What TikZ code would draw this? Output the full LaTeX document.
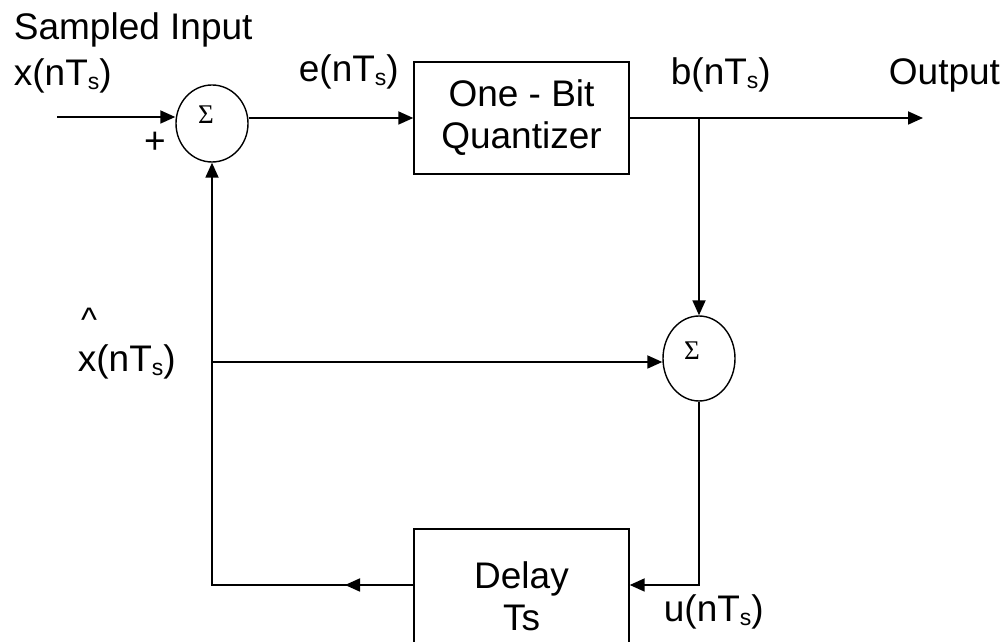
\documentclass[tikz,border=0pt]{standalone}
\usepackage{fontspec}
\setmainfont{Liberation Sans}
\newfontfamily\sigfont{Liberation Serif}
\usetikzlibrary{arrows.meta,shapes.geometric,calc}
\newcommand{\myTs}{T\raisebox{-4pt}{\fontsize{23}{23}\selectfont s}}
\begin{document}
\begin{tikzpicture}[x=1pt,y=1pt,
 line width=1.8pt,
 arr/.style={-{Triangle[length=15pt,width=13pt]}},
 sumnode/.style={draw,ellipse,line width=1.4pt,inner sep=0pt},
 blk/.style={draw,rectangle,line width=1.4pt,align=center,inner sep=0pt,font=\fontsize{37}{42}\selectfont},
 lbl/.style={font=\fontsize{37}{42}\selectfont,inner sep=0pt,anchor=base west},
 sig/.style={font=\sigfont\fontsize{27}{27}\selectfont,inner sep=0pt}]
\useasboundingbox (0,0) rectangle (1004,642);
% blocks
\node[sumnode,minimum width=72pt,minimum height=77pt] (s1) at (212,518.5) {};
\node[sig] (sig1) at (206,527) {Σ};
\node[sumnode,minimum width=72pt,minimum height=85pt] (s2) at (699,283.5) {};
\node[sig] (sig2) at (692,291) {Σ};
\node[blk,minimum width=215pt,minimum height=112pt] (q) at (521.5,524) {One - Bit\\Quantizer};
\node[blk,minimum width=215pt,minimum height=134pt] (d) at (521.5,46) {Delay\\Ts};
% coordinates
\coordinate (in) at (57,525);
\coordinate (j) at (699,524);
\coordinate (o) at (923,524);
\coordinate (h) at (212,280);
\coordinate (c) at (212,57);
\coordinate (u) at (699,57);
\coordinate (m) at (345,57);
% connectors
\draw[arr] (in) -- (in -| s1.west);
\draw[arr] (s1.east |- q.west) -- (q.west);
\draw[arr] (q.east) -- (o);
\draw[arr] (j) -- (s2.north);
\draw[arr] (h) -- (h -| s2.west);
\draw[arr] (s2.south) -- (u) -- (u -| d.east);
\draw[arr] (u -| d.west) -- (c) -- (s1.south);
\draw[arr] (u -| d.west) -- (m);
% labels
\node[lbl] (lsi) at (13,602) {Sampled Input};
\node[lbl] (lx) at (13,556) {x(n\myTs)};
\node[lbl] (le) at (298,560) {e(n\myTs)};
\node[lbl] (lb) at (670,557) {b(n\myTs)};
\node[lbl] (lo) at (888,557) {Output};
\node[font=\fontsize{34}{40}\selectfont,inner sep=0pt] (hat) at (89,322) {\textasciicircum};
\node[lbl] (lxh) at (77,270) {x(n\myTs)};
\node[lbl] (lu) at (663,20) {u(n\myTs)};
\node[font=\fontsize{37}{40}\selectfont,inner sep=0pt] (plus) at (155,499) {+};
\end{tikzpicture}
\end{document}
